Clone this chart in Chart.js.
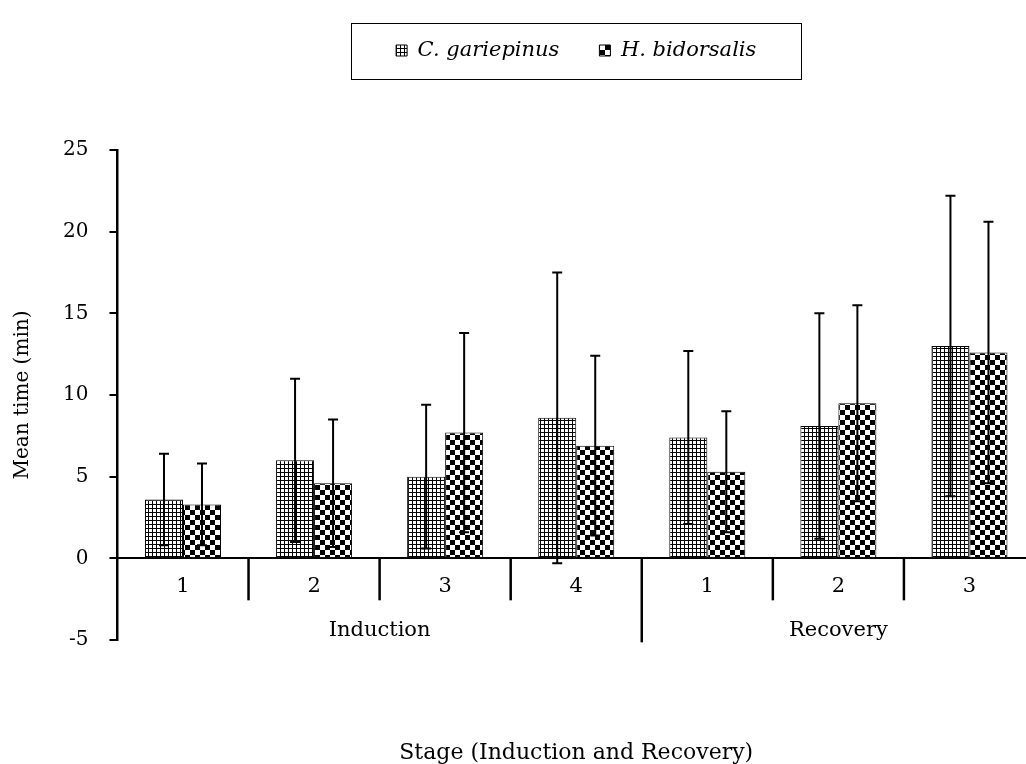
<!DOCTYPE html>
<html>
<head>
<meta charset="utf-8">
<script src="https://cdn.jsdelivr.net/npm/chart.js@4"></script>
<style>
  html, body { margin: 0; padding: 0; background: #fff; overflow: hidden; }
  #wrap { position: relative; width: 1035px; height: 764px; }
</style>
</head>
<body>
<div id="wrap"><canvas id="grafico"></canvas></div>
<script>
// dados
const categories = ["1", "2", "3", "4", "1", "2", "3"];
const groups = ["Induction", "Recovery"];
const groupSizes = [4, 3];
const meanC = [3.6, 6.0, 5.0, 8.6, 7.4, 8.1, 13.0];
const errC = [2.8, 5.0, 4.4, 8.9, 5.3, 6.9, 9.2];
const meanH = [3.3, 4.6, 7.7, 6.9, 5.3, 9.5, 12.6];
const errH = [2.5, 3.9, 6.1, 5.5, 3.7, 6.0, 8.0];
const yTicks = { min: -5, max: 25, step: 5 };

const FONT = "DejaVu Serif";

// padrões das barras
function makePattern(draw, w, h) {
    const c = document.createElement("canvas");
    c.width = w; c.height = h;
    const g = c.getContext("2d");
    g.fillStyle = "#fff";
    g.fillRect(0, 0, w, h);
    g.fillStyle = "#000";
    draw(g);
    return g.createPattern(c, "repeat");
}
const patGrid = makePattern(g => { g.fillRect(0, 0, 4, 1); g.fillRect(0, 0, 1, 4); }, 4, 4);
const patCheck = makePattern(g => { g.fillRect(0, 0, 5, 5); g.fillRect(5, 5, 5, 5); }, 10, 10);

// espaço extra abaixo da legenda
const legendGap = {
    id: "legendGap",
    beforeInit(chart) {
        const fit = chart.legend.fit;
        chart.legend.fit = function () { fit.call(this); this.height += 79; };
    }
};

const extras = {
    id: "extras",
    afterDatasetsDraw(chart) {
        const y = chart.scales.y;
        const c = chart.ctx;
        c.save();
        c.strokeStyle = "#000";
        c.lineWidth = 2;
        [errC, errH].forEach((err, di) => {
            const vals = chart.data.datasets[di].data;
            chart.getDatasetMeta(di).data.forEach((bar, i) => {
                const top = y.getPixelForValue(vals[i] + err[i]);
                const bot = y.getPixelForValue(vals[i] - err[i]);
                c.beginPath();
                c.moveTo(bar.x, top); c.lineTo(bar.x, bot);
                c.moveTo(bar.x - 5, top); c.lineTo(bar.x + 5, top);
                c.moveTo(bar.x - 5, bot); c.lineTo(bar.x + 5, bot);
                c.stroke();
            });
        });
        c.restore();
    },
    afterDraw(chart) {
        const x = chart.scales.x, y = chart.scales.y, c = chart.ctx;
        const y0 = y.getPixelForValue(0);
        const n = categories.length;
        const half = (x.getPixelForTick(1) - x.getPixelForTick(0)) / 2;
        const edge = i => i === 0 ? x.getPixelForTick(0) - half
            : i === n ? x.getPixelForTick(n - 1) + half
            : (x.getPixelForTick(i - 1) + x.getPixelForTick(i)) / 2;

        c.save();
        c.strokeStyle = "#000";
        c.lineWidth = 2.5;
        const groupEnds = [];
        groupSizes.reduce((s, k) => { groupEnds.push(s + k); return s + k; }, 0);
        for (let i = 1; i < n; i++) {
            const len = groupEnds.includes(i) ? 84 : 42;
            c.beginPath();
            c.moveTo(edge(i), y0);
            c.lineTo(edge(i), y0 + len);
            c.stroke();
        }

        // rótulos dos grupos
        c.fillStyle = "#000";
        c.font = "21px '" + FONT + "'";
        c.textAlign = "center";
        c.textBaseline = "alphabetic";
        let start = 0;
        groups.forEach((g, k) => {
            const end = start + groupSizes[k];
            c.fillText(g, (edge(start) + edge(end)) / 2, y0 + 78);
            start = end;
        });

        // moldura da legenda
        const boxes = chart.legend.legendHitBoxes;
        if (boxes && boxes.length) {
            const l = Math.min(...boxes.map(b => b.left)) - 45;
            const r = Math.max(...boxes.map(b => b.left + b.width)) + 45;
            const cy = boxes[0].top + boxes[0].height / 2;
            c.lineWidth = 1;
            c.strokeRect(Math.round(l) + 0.5, Math.round(cy - 28) + 0.5, Math.round(r - l), 56);
        }
        c.restore();
    }
};

const ctx = document.getElementById("grafico").getContext("2d");
new Chart(ctx, {
    type: "bar",
    data: {
        labels: categories,
        datasets: [
            { label: "C. gariepinus", data: meanC, backgroundColor: patGrid, borderColor: "#000", borderWidth: 1, categoryPercentage: 0.58, barPercentage: 1 },
            { label: "H. bidorsalis", data: meanH, backgroundColor: patCheck, borderColor: "#000", borderWidth: 1, categoryPercentage: 0.58, barPercentage: 1 }
        ]
    },
    options: {
        responsive: true,
        maintainAspectRatio: false,
        animation: false,
        layout: { padding: { top: 0, left: 0, right: 0, bottom: 0 } },
        plugins: {
            legend: {
                position: "top",
                fullSize: false,
                labels: {
                    font: { family: FONT, size: 21, style: "italic" },
                    color: "#000",
                    boxWidth: 11,
                    boxHeight: 11,
                    padding: 40
                }
            },
            title: {
                display: true,
                position: "bottom",
                fullSize: false,
                text: "Stage (Induction and Recovery)",
                color: "#000",
                font: { family: FONT, size: 22, weight: "normal", lineHeight: 1 },
                padding: { top: 102, bottom: 0 }
            },
            tooltip: { enabled: false }
        },
        scales: {
            x: {
                position: { y: 0 },
                grid: { display: false, drawTicks: false },
                border: { display: true, color: "#000", width: 2 },
                ticks: { font: { family: FONT, size: 21 }, color: "#000", padding: 16 }
            },
            y: {
                min: yTicks.min,
                max: yTicks.max,
                ticks: { stepSize: yTicks.step, font: { family: FONT, size: 20 }, color: "#000", padding: 21 },
                grid: { drawOnChartArea: false, drawTicks: true, tickLength: 8, color: "#000", lineWidth: 2 },
                border: { color: "#000", width: 2.5 },
                title: {
                    display: true,
                    text: "Mean time (min)",
                    color: "#000",
                    font: { family: FONT, size: 20 },
                    padding: { top: 11, bottom: 7 }
                }
            }
        }
    },
    plugins: [legendGap, extras]
});
</script>
</body>
</html>
